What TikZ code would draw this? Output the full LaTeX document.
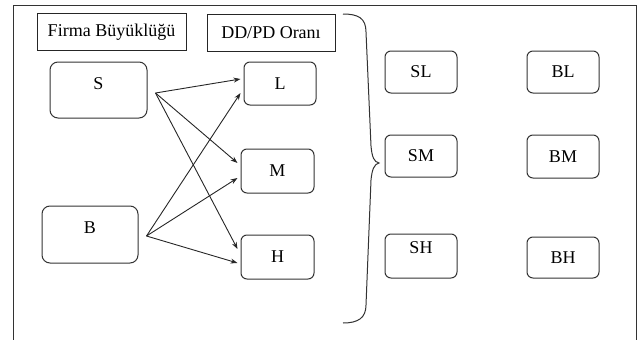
\documentclass[tikz,border=0pt]{standalone}
\usepackage{fontspec}
\setmainfont{Liberation Serif}
\usetikzlibrary{arrows.meta}

\begin{document}
\begin{tikzpicture}[
		x=1pt, y=-1pt,
		every node/.style={font=\fontsize{18}{21}\selectfont},
		mybox/.style={draw=black!80, line width=1pt, rounded corners=6pt, minimum width=72pt, minimum height=43pt, inner sep=0pt},
		bigbox/.style={mybox, rounded corners=8pt, align=center},
		hdrbox/.style={draw=black!85, line width=1pt, minimum height=37pt, inner sep=0pt},
		myarrow/.style={-{Stealth[length=7pt,width=5pt]}, color=black!85, line width=0.9pt}
	]

	\useasboundingbox (0,0) rectangle (641,340);

	\draw[line width=1pt, color=black!80] (13,345) -- (13,5) -- (636,5) -- (636,345);

	\node[hdrbox, minimum width=149pt] (firma) at (111.5,32) {Firma Büyüklüğü};
	\node[hdrbox, minimum width=128pt] (oran) at (271,32.5) {DD/PD Oranı};

	\node[bigbox, text width=97pt, text height=27pt, text depth=29pt] (S) at (98.5,90) {S};
	\node[bigbox, text width=96pt, text height=27pt, text depth=30pt] (B) at (90,234.5) {B};

	\node[mybox] (L) at (280,83.5) {L};
	\node[mybox, minimum width=73pt, minimum height=44pt] (M) at (277.5,171) {M};
	\node[mybox, minimum width=73pt, minimum height=44pt] (H) at (277.5,257) {H};

	\coordinate (Sout) at ([xshift=8pt,yshift=-3pt]S.east);
	\coordinate (Bout) at ([xshift=8pt,yshift=-1.5pt]B.east);

	\draw[myarrow] (Sout) -- ([xshift=-3pt,yshift=4.5pt]L.west);
	\draw[myarrow] (Sout) -- ([xshift=-3pt,yshift=8pt]M.west);
	\draw[myarrow] (Sout) -- ([xshift=-3pt,yshift=8pt]H.west);
	\draw[myarrow] (Bout) -- ([xshift=-3pt,yshift=-9.5pt]L.west);
	\draw[myarrow] (Bout) -- ([xshift=-3pt,yshift=-7pt]M.west);
	\draw[myarrow] (Bout) -- ([xshift=-3pt,yshift=-6pt]H.west);

	\draw[line width=1pt, color=black!80] (343,14) .. controls (358,14) and (366,18) .. (366,32) -- (371,146) .. controls (372,157) and (374,162) .. (379,163) .. controls (374,164) and (372,170) .. (371,180) -- (366,305) .. controls (366,318) and (358,323) .. (343,323);

	\node[mybox, minimum height=42pt] (SL) at (421,72) {SL};
	\node[mybox, minimum height=42pt] (SM) at (421,156) {SM};
	\node[mybox, text height=19pt, text depth=25pt] (SH) at (421,256) {SH};

	\node[mybox, minimum height=42pt] (BL) at (563,72) {BL};
	\node[mybox, minimum height=43pt] (BM) at (563,156.5) {BM};
	\node[mybox, minimum height=41pt] (BH) at (563,257.5) {BH};

\end{tikzpicture}
\end{document}
